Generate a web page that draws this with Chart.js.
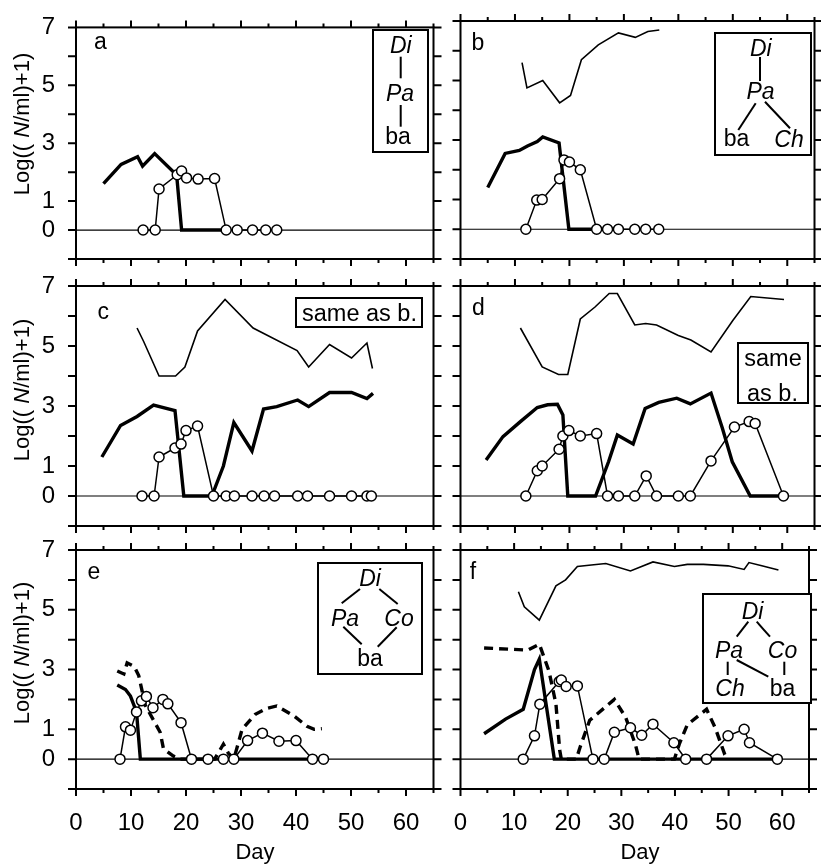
<!DOCTYPE html>
<html>
<head>
<meta charset="utf-8">
<script src="https://cdn.jsdelivr.net/npm/chart.js@4.4.0/dist/chart.umd.min.js"></script>
<style>
  html, body { margin: 0; padding: 0; background: #fff; }
  #fig { position: relative; width: 821px; height: 865px; overflow: hidden;
         font-family: "Liberation Sans", Arial, sans-serif; color: #000; }
  #fig canvas { position: absolute; left: 0; top: 0; }
  .t { position: absolute; white-space: nowrap; line-height: 1; transform: translateX(-50%); }
  .box { position: absolute; border: 2px solid #000; box-sizing: border-box; background: #fff; }
  .ytitle { position: absolute; white-space: nowrap; line-height: 1; font-size: 22px;
            transform: translate(-50%, -50%) rotate(-90deg); }
  #lines { position: absolute; left: 0; top: 0; }
</style>
</head>
<body>
<div id="fig"></div>
<script>
// Log((N/ml)+1) over days.
// chilo = thin line (Ch), para = thick line (Pa), colp = dashed (Co), didi = circles (Di)

const xTickLabels = [0, 10, 20, 30, 40, 50, 60];
const yTickLabels = [0, 1, 3, 5, 7];

// panel a
const aPara = [[5,1.6],[8.2,2.27],[11.2,2.53],[12.1,2.21],[14.3,2.64],[18.3,1.9],[19.2,0],[27.2,0]];
const aDidi = [[12.2,0],[14.4,0],[15.1,1.42],[18.4,1.91],[19.2,2.04],[20.1,1.8],[22.2,1.76],[25.2,1.78],
               [27.3,0],[29.3,0],[32.1,0],[34.5,0],[36.5,0]];

// panel b
const bChilo = [[11.3,5.6],[12.2,4.75],[15.1,5.0],[18.2,4.25],[20.2,4.5],[22.2,5.7],[25.3,6.2],[29,6.6],
                [32.1,6.45],[34.4,6.65],[36.5,6.7]];
const bPara = [[5,1.4],[8.2,2.55],[10.8,2.65],[12.3,2.8],[14.1,2.95],[15.1,3.1],[18.1,2.9],[19.9,0],[25,0]];
const bDidi = [[12,0],[14,0.98],[15,1.0],[18.2,1.7],[19,2.33],[20,2.26],[22,2.0],[25,0],[27,0],[29,0],
               [32,0],[34,0],[36.4,0]];

// panel c
const cChilo = [[11.1,5.6],[12.3,5.15],[15.1,4.0],[18.1,4.0],[19.8,4.3],[22.1,5.5],[27.1,6.55],[32.2,5.6],
                [40.2,4.85],[42.3,4.3],[46.1,5.05],[50.1,4.6],[52.9,5.1],[53.9,4.25]];
const cPara = [[4.7,1.3],[8.1,2.35],[11.1,2.65],[14.1,3.03],[18,2.85],[19.6,0],[24.7,0],[26.8,1.0],
               [28.7,2.45],[32,1.5],[34.1,2.9],[36.5,2.98],[40.3,3.2],[42.3,2.98],[46.1,3.45],[50.1,3.45],
               [52.9,3.25],[54,3.42]];
const cDidi = [[12,0],[14.2,0],[15.1,1.3],[18,1.6],[19.1,1.73],[20,2.18],[22.1,2.33],[25,0],[27.3,0],
               [28.8,0],[32,0],[34.2,0],[36.1,0],[40.3,0],[42.1,0],[46.1,0],[50.1,0],[52.9,0],[53.7,0]];

// panel d
const dChilo = [[11,5.6],[15,4.3],[18,4.05],[19.7,4.05],[22,5.9],[24.7,6.3],[27.3,6.75],[28.8,6.75],
                [32,5.7],[34,5.75],[36,5.7],[40,5.35],[42.3,5.2],[46,4.8],[50,5.85],[53.3,6.65],[59.4,6.55]];
const dPara = [[4.7,1.2],[7.8,1.98],[11,2.48],[14.1,2.95],[16,3.04],[17.8,3.06],[18.8,2.7],[19.7,0],
               [24.8,0],[27.2,1.15],[28.8,2.03],[31.7,1.73],[33.9,2.92],[36.4,3.12],[39.7,3.26],[42.2,3.07],
               [46,3.43],[48.1,2.25],[49.9,1.14],[53.2,0],[59.3,0]];
const dDidi = [[12,0],[14.1,0.84],[15,1.0],[18.1,1.56],[18.8,2.0],[19.9,2.18],[22,2.0],[25,2.08],[27,0],
               [29,0],[32,0],[34.1,0.67],[36,0],[40,0],[42.2,0],[46,1.17],[50.3,2.3],[53,2.48],[54.1,2.42],
               [59.3,0]];

// panel e
const ePara = [[7.5,2.48],[9,2.33],[9.9,2.11],[11,1.58],[11.7,0],[42.5,0]];
const eColp = [[7.5,2.95],[8.7,2.85],[9.3,3.22],[10.6,3.1],[11.4,2.8],[12.6,1.8],[14.1,1.3],[15.3,0.9],
               [15.9,0.35],[17.7,0.1],[18.9,0],[25.2,0],[26.8,0.5],[27.7,0.2],[28.7,0],[30.2,1.0],
               [32.6,1.5],[34.7,1.7],[36.5,1.78],[39.6,1.45],[42,1.1],[43.3,1.0],[44.7,1.02]];
const eDidi = [[8,0],[9,1.08],[9.9,0.97],[11,1.58],[11.9,1.95],[12.8,2.1],[14,1.72],[15.8,2.0],[16.7,1.85],
               [19.1,1.22],[21,0],[24,0],[26.8,0],[28.7,0],[31.2,0.62],[33.9,0.87],[36.9,0.6],[40,0.62],
               [43,0],[45,0]];

// panel f
const fChilo = [[10.8,5.6],[11.9,5.1],[14.7,4.65],[17.8,5.8],[19.6,6.0],[21.8,6.45],[24.4,6.5],[27.1,6.55],
                [31.7,6.3],[35.9,6.6],[39.9,6.45],[42.3,6.52],[45.3,6.52],[49.9,6.47],[52.9,6.35],
                [53.8,6.58],[56.2,6.47],[59.3,6.33]];
const fPara = [[4.4,0.85],[8.4,1.34],[11.7,1.67],[13.8,3.0],[14.7,3.35],[17.5,0],[59,0]];
const fColp = [[4.4,3.72],[12.6,3.65],[14.7,3.85],[16.5,2.95],[17.8,1.85],[18.5,0.3],[18.8,0],[21.6,0],
               [22.3,0.4],[24.1,1.3],[28.7,2.0],[30.8,1.4],[32.6,0.5],[33.3,0],[39.9,0],[40.8,0.5],
               [42.3,1.15],[45.9,1.67],[47.5,1.05],[49.3,0.15],[50,0]];
const fDidi = [[11.7,0],[13.8,0.78],[14.8,1.84],[18.4,2.6],[18.8,2.65],[19.7,2.43],[21.8,2.45],[24.7,0],
               [26.8,0],[28.7,0.9],[31.7,1.05],[33.8,0.8],[35.9,1.17],[39.8,0.55],[42,0],[45.9,0],
               [49.9,0.78],[52.9,1.0],[53.9,0.55],[59.1,0]];

const fig = document.getElementById('fig');
const W = 821, H = 865;
const tickFont = { family: '"Liberation Sans", Arial, sans-serif', size: 24 };
const Y_AXIS_W = 60;   // room kept for the y tick labels (labels are clipped to the axis box)
const X_AXIS_H = 50;   // room kept for the x tick labels

const toXY = pts => pts.map(p => ({ x: p[0], y: p[1] }));

function thinLine(pts) {
    return { data: toXY(pts), borderColor: '#000', borderWidth: 1.6, pointRadius: 0, fill: false, tension: 0 };
}
function thickLine(pts) {
    return { data: toXY(pts), borderColor: '#000', borderWidth: 3.4, pointRadius: 0, fill: false, tension: 0,
             borderJoinStyle: 'miter' };
}
function dashedLine(pts) {
    return { data: toXY(pts), borderColor: '#000', borderWidth: 3.4, borderDash: [9, 6], pointRadius: 0,
             fill: false, tension: 0 };
}
function circleLine(pts) {
    return { data: toXY(pts), borderColor: '#000', borderWidth: 1.5, pointRadius: 5,
             pointBackgroundColor: '#fff', pointBorderColor: '#000', pointBorderWidth: 1.5,
             fill: false, tension: 0 };
}

// box, outward ticks on all four sides, and the zero line
const framePlugin = {
    id: 'frame',
    beforeDatasetsDraw(chart) {
        const { ctx, chartArea: a, scales: { y } } = chart;
        const y0 = y.getPixelForValue(0);
        ctx.save();
        ctx.strokeStyle = '#000';
        ctx.lineWidth = 1.2;
        ctx.beginPath();
        ctx.moveTo(a.left, y0);
        ctx.lineTo(a.right, y0);
        ctx.stroke();
        ctx.restore();
    },
    afterDraw(chart) {
        const { ctx, chartArea: a, scales: { x, y } } = chart;
        ctx.save();
        ctx.strokeStyle = '#000';
        ctx.lineWidth = 2;
        ctx.strokeRect(a.left, a.top, a.right - a.left, a.bottom - a.top);
        ctx.beginPath();
        for (let v = -1; v <= 7; v++) {
            const py = y.getPixelForValue(v);
            ctx.moveTo(a.left - 8, py); ctx.lineTo(a.left, py);
            ctx.moveTo(a.right, py); ctx.lineTo(a.right + 8, py);
        }
        for (let d = 0; d <= 65; d += 5) {
            const px = x.getPixelForValue(d);
            const len = d % 10 === 0 ? 7 : 4;
            ctx.moveTo(px, a.top - len); ctx.lineTo(px, a.top);
            ctx.moveTo(px, a.bottom); ctx.lineTo(px, a.bottom + len);
        }
        ctx.stroke();
        ctx.restore();
    }
};

function makePanel(p) {
    const canvas = document.createElement('canvas');
    canvas.width = W;
    canvas.height = H;
    fig.appendChild(canvas);
    const xH = p.xLabels ? X_AXIS_H : 0;
    const yW = p.yLabels ? Y_AXIS_W : 0;
    return new Chart(canvas, {
        type: 'line',
        data: { datasets: p.datasets },
        options: {
            responsive: false,
            animation: false,
            events: [],
            layout: {
                padding: { left: p.left - yW, top: p.top, right: W - p.right, bottom: H - p.bottom - xH }
            },
            plugins: { legend: { display: false }, tooltip: { enabled: false } },
            scales: {
                x: {
                    type: 'linear', min: 0, max: 65,
                    display: p.xLabels,
                    grid: { display: false }, border: { display: false },
                    afterFit: s => { s.height = xH; },
                    ticks: {
                        stepSize: 5, autoSkip: false, maxRotation: 0, padding: 12,
                        color: '#000', font: tickFont,
                        callback: v => xTickLabels.includes(v) ? String(v) : ''
                    }
                },
                y: {
                    type: 'linear', min: -1, max: 7,
                    display: p.yLabels,
                    grid: { display: false }, border: { display: false },
                    afterFit: s => { s.width = yW; },
                    ticks: {
                        stepSize: 1, autoSkip: false, padding: 13,
                        color: '#000', font: tickFont,
                        callback: v => yTickLabels.includes(v) ? String(v) : ''
                    }
                }
            }
        },
        plugins: [framePlugin]
    });
}

const LX = [76, 433.5], RX = [460.5, 818];
const ROWS = [[21, 259], [286, 526], [550, 789]];

makePanel({ left: LX[0], right: LX[1], top: ROWS[0][0], bottom: ROWS[0][1], xLabels: false, yLabels: true,
    datasets: [circleLine(aDidi), thickLine(aPara)] });
makePanel({ left: RX[0], right: RX[1], top: ROWS[0][0], bottom: ROWS[0][1], xLabels: false, yLabels: false,
    datasets: [circleLine(bDidi), thickLine(bPara), thinLine(bChilo)] });
makePanel({ left: LX[0], right: LX[1], top: ROWS[1][0], bottom: ROWS[1][1], xLabels: false, yLabels: true,
    datasets: [circleLine(cDidi), thickLine(cPara), thinLine(cChilo)] });
makePanel({ left: RX[0], right: RX[1], top: ROWS[1][0], bottom: ROWS[1][1], xLabels: false, yLabels: false,
    datasets: [circleLine(dDidi), thickLine(dPara), thinLine(dChilo)] });
makePanel({ left: LX[0], right: LX[1], top: ROWS[2][0], bottom: ROWS[2][1], xLabels: true, yLabels: true,
    datasets: [circleLine(eDidi), dashedLine(eColp), thickLine(ePara)] });
makePanel({ left: RX[0], right: RX[1], top: ROWS[2][0], bottom: ROWS[2][1], xLabels: true, yLabels: false,
    datasets: [circleLine(fDidi), dashedLine(fColp), thickLine(fPara), thinLine(fChilo)] });

// ---- annotations (real text over the canvases) ----
function text(str, cx, baseline, size, italic) {
    const el = document.createElement('div');
    el.className = 't';
    el.style.left = cx + 'px';
    el.style.top = (baseline - 0.85 * size) + 'px';
    el.style.fontSize = size + 'px';
    if (italic) el.style.fontStyle = 'italic';
    el.textContent = str;
    fig.appendChild(el);
}
function box(x1, y1, x2, y2) {
    const el = document.createElement('div');
    el.className = 'box';
    el.style.left = x1 + 'px';
    el.style.top = y1 + 'px';
    el.style.width = (x2 - x1) + 'px';
    el.style.height = (y2 - y1) + 'px';
    fig.appendChild(el);
}
function yTitle(cy) {
    const el = document.createElement('div');
    el.className = 'ytitle';
    el.style.left = '21.5px';
    el.style.top = cy + 'px';
    el.innerHTML = 'Log(( <i>N</i>/ml)+1)';
    fig.appendChild(el);
}

box(371.7, 29.3, 429.3, 152.7);
box(714, 32.3, 811.7, 156);
box(295, 296.7, 423.3, 328.3);
box(736.7, 341.7, 809, 404.5);
box(316.7, 561.7, 423.3, 675);
box(702, 592.5, 812, 704);

const svgNS = 'http://www.w3.org/2000/svg';
const svg = document.createElementNS(svgNS, 'svg');
svg.setAttribute('id', 'lines');
svg.setAttribute('width', W);
svg.setAttribute('height', H);
fig.appendChild(svg);
const links = [
    [400.7, 56.7, 400.7, 78.3], [400.7, 105, 400.7, 126.7],                       // a
    [760, 57, 760, 81], [755.7, 103.3, 738.3, 130], [765, 101.7, 790, 128.3],      // b
    [360, 589, 341.7, 603.3], [379.3, 589, 397.7, 604],                           // e
    [343.3, 626.7, 361.7, 644.3], [396.7, 627.3, 377.7, 646.7],
    [748.3, 621.7, 736.7, 636.7], [756.7, 621.7, 770, 636.7],                     // f
    [727.7, 661.7, 727.7, 675], [736.7, 660, 768.3, 676.7], [784.3, 661.7, 784.3, 675]
];
links.forEach(l => {
    const ln = document.createElementNS(svgNS, 'line');
    ln.setAttribute('x1', l[0]); ln.setAttribute('y1', l[1]);
    ln.setAttribute('x2', l[2]); ln.setAttribute('y2', l[3]);
    ln.setAttribute('stroke', '#000');
    ln.setAttribute('stroke-width', '2');
    svg.appendChild(ln);
});

// inset labels
text('Di', 400.8, 53.3, 23, true);
text('Pa', 400, 101.7, 23, true);
text('ba', 398, 145, 23, false);

text('Di', 760.8, 56.7, 23, true);
text('Pa', 760.5, 100, 23, true);
text('ba', 736.5, 146.7, 23, false);
text('Ch', 789, 148, 23, true);

text('same as b.', 359.5, 321.7, 23.5, false);
text('same', 773, 366.5, 23.5, false);
text('as b.', 772.5, 402, 23.5, false);

text('Di', 370, 586.7, 23, true);
text('Pa', 345, 626.7, 23, true);
text('Co', 399, 626.7, 23, true);
text('ba', 370, 666.7, 23, false);

text('Di', 752.5, 620, 23, true);
text('Pa', 729, 658.3, 23, true);
text('Co', 782.5, 658.3, 23, true);
text('Ch', 730, 696.7, 23, true);
text('ba', 782.5, 696.7, 23, false);

// panel letters
text('a', 100.5, 50, 23, false);
text('b', 478, 51, 23, false);
text('c', 103.3, 320, 23, false);
text('d', 478.3, 316, 23, false);
text('e', 94, 580, 23, false);
text('f', 473, 580, 23, false);

// axis titles
yTitle(124);
yTitle(390);
yTitle(653);
text('Day', 255, 860, 22, false);
text('Day', 640, 860, 22, false);
</script>
</body>
</html>
